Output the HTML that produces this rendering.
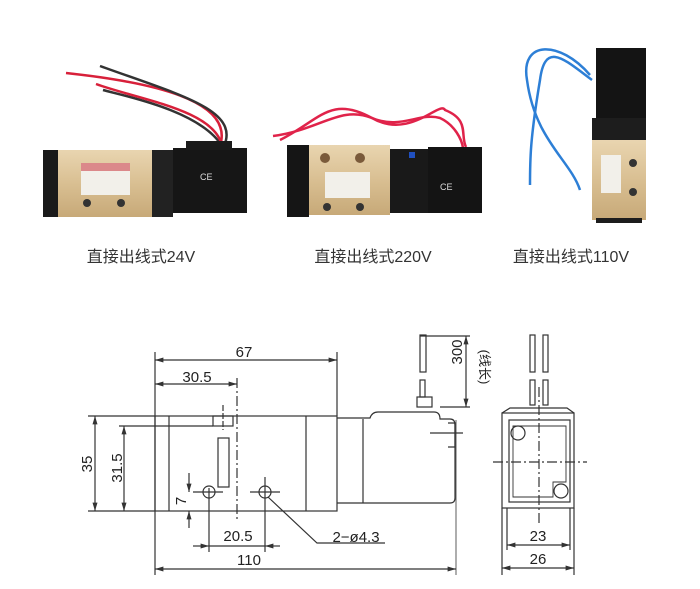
<!DOCTYPE html>
<html><head><meta charset="utf-8"><style>
html,body{margin:0;padding:0;background:#fff;}
svg{display:block;}
</style></head><body>
<svg width="700" height="589" viewBox="0 0 700 589" xmlns="http://www.w3.org/2000/svg">
<defs>
<linearGradient id="gold" x1="0" y1="0" x2="0" y2="1">
<stop offset="0" stop-color="#e9d5b0"/><stop offset="0.5" stop-color="#d9bf92"/><stop offset="1" stop-color="#c7a978"/>
</linearGradient>
<marker id="ar" viewBox="0 0 10 10" refX="10" refY="5" markerWidth="7" markerHeight="7" orient="auto-start-reverse">
<path d="M0,2 L10,5 L0,8 z" fill="#333"/></marker>
</defs>
<rect width="700" height="589" fill="#fff"/>

<!-- Valve 1 -->
<path d="M222,146 C200,110 120,95 103,90" stroke="#333" stroke-width="2.5" fill="none"/>
<path d="M222,146 C215,110 140,100 96,84" stroke="#d8203a" stroke-width="2.5" fill="none"/>
<path d="M220,146 C235,100 150,82 66,73" stroke="#d8203a" stroke-width="2.5" fill="none"/>
<path d="M224,146 C240,110 180,95 100,66" stroke="#333" stroke-width="2.5" fill="none"/>
<rect x="43" y="150" width="130" height="67" fill="url(#gold)"/>
<rect x="43" y="150" width="15" height="67" fill="#1a1a1a"/>
<rect x="152" y="150" width="21" height="67" fill="#222"/>
<rect x="173" y="148" width="74" height="65" fill="#161616"/>
<rect x="186" y="141" width="46" height="9" fill="#1b1b1b"/>
<rect x="81" y="163" width="49" height="32" fill="#f2f0ea"/>
<rect x="81" y="163" width="49" height="8" fill="#c41f2a" opacity="0.5"/>
<circle cx="87" cy="203" r="4" fill="#333"/><circle cx="121" cy="203" r="4" fill="#333"/>
<text x="200" y="180" font-family="Liberation Sans,sans-serif" font-size="9" fill="#ddd">CE</text>

<!-- Valve 2 -->
<path d="M280,140 C320,120 330,95 372,118 C410,140 440,100 445,110 C470,120 460,135 466,147" stroke="#e0234a" stroke-width="2.5" fill="none"/>
<path d="M273,136 C320,130 340,105 372,118 C400,130 420,112 440,118 C455,125 462,140 463,148" stroke="#e0234a" stroke-width="2.5" fill="none"/>
<rect x="287" y="145" width="22" height="72" fill="#151515"/>
<rect x="309" y="145" width="81" height="70" fill="url(#gold)"/>
<rect x="390" y="149" width="40" height="64" fill="#191919"/>
<rect x="428" y="147" width="54" height="66" fill="#141414"/>
<rect x="325" y="172" width="45" height="26" fill="#f2f0ea"/>
<circle cx="325" cy="158" r="5" fill="#7a5a3a"/><circle cx="360" cy="158" r="5" fill="#7a5a3a"/>
<circle cx="327" cy="207" r="4" fill="#333"/><circle cx="360" cy="207" r="4" fill="#333"/>
<rect x="409" y="152" width="6" height="6" fill="#2050c0"/>
<text x="440" y="190" font-family="Liberation Sans,sans-serif" font-size="9" fill="#ddd">CE</text>

<!-- Valve 3 -->
<path d="M590,75 C560,40 520,40 527,80 C535,140 570,160 580,190" stroke="#2d7fd6" stroke-width="2.5" fill="none"/>
<path d="M592,80 C565,60 545,40 540,80 C530,140 530,160 530,185" stroke="#2d7fd6" stroke-width="2.5" fill="none"/>
<rect x="596" y="48" width="50" height="70" fill="#141414"/>
<rect x="592" y="118" width="54" height="24" fill="#1d1d1d"/>
<rect x="592" y="140" width="54" height="80" fill="url(#gold)"/>
<rect x="596" y="218" width="46" height="5" fill="#1d1d1d"/>
<rect x="601" y="155" width="20" height="38" fill="#f2f0ea"/>
<circle cx="633" cy="163" r="4" fill="#333"/><circle cx="633" cy="192" r="4" fill="#333"/>

<g font-family="Liberation Sans,'Noto Sans CJK SC',sans-serif" font-size="16" fill="#333" text-anchor="middle">
<text x="141" y="262">直接出线式24V</text>
<text x="373" y="262">直接出线式220V</text>
<text x="571" y="262">直接出线式110V</text>
</g>

<!-- Drawing -->
<g stroke="#333" stroke-width="1.2" fill="none">
<!-- valve body -->
<rect x="155" y="416" width="182" height="95"/>
<line x1="169" y1="416" x2="169" y2="511"/>
<line x1="306" y1="416" x2="306" y2="511"/>
<rect x="213" y="416" width="20" height="10"/>
<rect x="218" y="438" width="11" height="49"/>
<circle cx="209" cy="492" r="6"/><circle cx="265" cy="492" r="6"/>
<!-- coil -->
<path d="M337,418 H370 Q372,412 378,412 H434 Q440,412 440,419 H450 Q455,419 455,425 V498 Q455,503 450,503 H337"/>
<line x1="363" y1="419" x2="363" y2="503"/>
<path d="M448,423 H455 V447 H448"/>
<rect x="417" y="397" width="15" height="10"/>
<rect x="420" y="380" width="5" height="17"/>
<rect x="420" y="335" width="6" height="37"/>
<!-- ext lines -->
<line x1="155" y1="352" x2="155" y2="575"/>
<line x1="337" y1="352" x2="337" y2="416"/>
<line x1="88" y1="416" x2="155" y2="416"/>
<line x1="88" y1="511" x2="155" y2="511"/>
<line x1="119" y1="426" x2="213" y2="426"/>
<line x1="420" y1="336" x2="470" y2="336"/>
<line x1="440" y1="407" x2="470" y2="407"/>
<line x1="456" y1="420" x2="456" y2="575" stroke-width="0.8"/>
<line x1="209" y1="488" x2="209" y2="552"/>
<line x1="265" y1="477" x2="265" y2="552"/>
<line x1="193" y1="492" x2="223" y2="492"/>
<line x1="250" y1="492" x2="280" y2="492"/>
<line x1="237" y1="378" x2="237" y2="520" stroke-dasharray="10 3 2 3"/>
<line x1="223" y1="405" x2="223" y2="430" stroke-dasharray="6 2"/>
<line x1="430" y1="433" x2="463" y2="433"/>
<!-- dims -->
<line x1="155" y1="360" x2="337" y2="360" marker-start="url(#ar)" marker-end="url(#ar)"/>
<line x1="155" y1="384" x2="237" y2="384" marker-start="url(#ar)" marker-end="url(#ar)"/>
<line x1="95" y1="416" x2="95" y2="511" marker-start="url(#ar)" marker-end="url(#ar)"/>
<line x1="124" y1="426" x2="124" y2="511" marker-start="url(#ar)" marker-end="url(#ar)"/>
<line x1="189" y1="473" x2="189" y2="492" marker-end="url(#ar)"/>
<line x1="189" y1="528" x2="189" y2="511" marker-end="url(#ar)"/>
<line x1="193" y1="546" x2="209" y2="546" marker-end="url(#ar)"/>
<line x1="209" y1="546" x2="265" y2="546"/>
<line x1="280" y1="546" x2="265" y2="546" marker-end="url(#ar)"/>
<line x1="155" y1="569" x2="456" y2="569" marker-start="url(#ar)" marker-end="url(#ar)"/>
<line x1="466" y1="336" x2="466" y2="407" marker-start="url(#ar)" marker-end="url(#ar)"/>
<path d="M385,543 H317 L268,497" />
<!-- side view -->
<rect x="502" y="413" width="72" height="95"/>
<rect x="509" y="420" width="61" height="82"/>
<path d="M513,426 H566 V482 H553 V497 H513 Z" stroke-width="0.9"/>
<path d="M502,413 L510,408 H567 L574,413"/>
<circle cx="518" cy="433" r="7"/><circle cx="561" cy="491" r="7"/>
<rect x="530" y="335" width="5" height="37"/><rect x="543" y="335" width="5" height="37"/>
<rect x="530" y="380" width="5" height="25"/><rect x="543" y="380" width="5" height="25"/>
<line x1="539" y1="387" x2="539" y2="525" stroke-dasharray="10 3 2 3"/>
<line x1="493" y1="462" x2="587" y2="462" stroke-dasharray="10 3 2 3"/>
<line x1="502" y1="508" x2="502" y2="575"/><line x1="574" y1="508" x2="574" y2="575"/>
<line x1="507" y1="508" x2="507" y2="550"/><line x1="570" y1="508" x2="570" y2="550"/>
<line x1="507" y1="545" x2="570" y2="545" marker-start="url(#ar)" marker-end="url(#ar)"/>
<line x1="502" y1="568" x2="574" y2="568" marker-start="url(#ar)" marker-end="url(#ar)"/>
</g>
<g font-family="Liberation Sans,'Noto Sans CJK SC',sans-serif" font-size="15" fill="#222" text-anchor="middle">
<text x="244" y="357">67</text>
<text x="197" y="382">30.5</text>
<text x="238" y="541">20.5</text>
<text x="249" y="565">110</text>
<text x="356" y="542">2−ø4.3</text>
<text x="538" y="541">23</text>
<text x="538" y="564">26</text>
<text transform="translate(92,464) rotate(-90)">35</text>
<text transform="translate(122,468) rotate(-90)">31.5</text>
<text transform="translate(186,501) rotate(-90)">7</text>
<text transform="translate(462,352) rotate(-90)">300</text>
<text transform="translate(480,367) rotate(90)" font-size="13">(线长)</text>
</g>
</svg>
</body></html>
